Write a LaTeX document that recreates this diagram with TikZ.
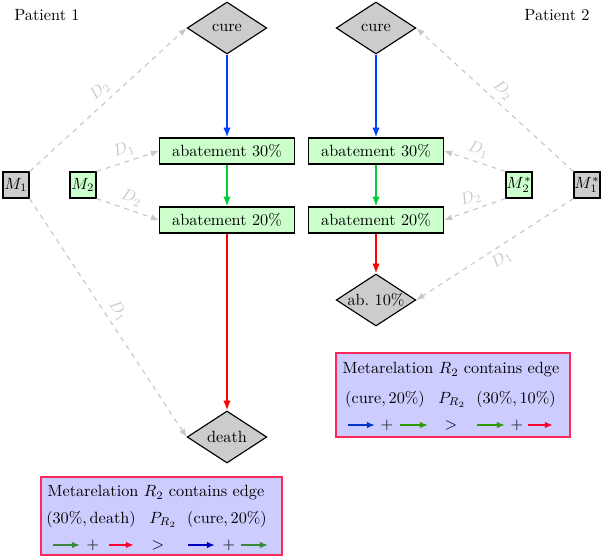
\documentclass[tikz,border=0pt]{standalone}
\usetikzlibrary{shapes.geometric,arrows.meta}

\definecolor{boxgreen}{RGB}{204,255,204}
\definecolor{diamgray}{RGB}{204,204,204}
\definecolor{dashgray}{RGB}{200,200,200}
\definecolor{flowblue}{RGB}{0,64,255}
\definecolor{flowgreen}{RGB}{0,204,51}
\definecolor{flowred}{RGB}{255,0,0}
\definecolor{legfill}{RGB}{204,204,255}
\definecolor{legborder}{RGB}{255,40,90}
\definecolor{legblue}{RGB}{0,51,204}
\definecolor{legdkblue}{RGB}{0,0,190}
\definecolor{leggreen}{RGB}{51,153,0}
\definecolor{legdkgreen}{RGB}{56,136,56}
\definecolor{legred}{RGB}{255,0,51}

\tikzset{
  statebox/.style={draw, line width=0.7pt, fill=boxgreen, minimum width=83pt,
    minimum height=16pt, inner sep=0pt},
  outcome/.style={diamond, draw, line width=0.7pt, fill=diamgray,
    minimum width=49pt, minimum height=32pt, inner sep=0pt},
  medbox/.style={draw, line width=0.7pt, minimum size=16pt, inner sep=0pt},
  link/.style={draw=dashgray, dashed, line width=0.7pt,
    -{Latex[length=5pt,width=4pt]}},
  dlabel/.style={sloped, text=dashgray, inner sep=3pt},
  flow/.style={line width=0.9pt, -{Latex[length=6pt,width=4.5pt]}},
  legbox/.style={draw=legborder, line width=0.7pt, fill=legfill},
  legtext/.style={inner sep=0pt},
  legarrow/.style={line width=1.5pt, -{Latex[length=5pt,width=4pt]}}
}

\begin{document}
\begin{tikzpicture}[x=0.615pt, y=-0.615pt]
\useasboundingbox (0,0) rectangle (601,557);

% patient headers
\node (p1) at (47,15) {Patient 1};
\node (p2) at (557,15) {Patient 2};

% patient 1 chain
\node[outcome] (cureA) at (227,28) {cure};
\node[statebox] (abthA) at (227,151) {abatement 30\%};
\node[statebox] (abtwA) at (227,220) {abatement 20\%};
\node[outcome] (deathA) at (227,437) {death};
\node[medbox, fill=diamgray] (mOneA) at (16,185) {$M_1$};
\node[medbox, fill=boxgreen] (mTwoA) at (83,185) {$M_2$};

\draw[flow, flowblue] (cureA.south) -- (abthA.north);
\draw[flow, flowgreen] (abthA.south) -- (abtwA.north);
\draw[flow, flowred] (abtwA.south) -- (deathA.north);

\draw[link] (mOneA.north east) -- node[dlabel, above] {$D_2$} (cureA.west);
\draw[link] (mOneA.south east) -- node[dlabel, above] {$D_1$} (deathA.west);
\draw[link] (mTwoA.north east) -- node[dlabel, above] {$D_1$} (abthA.west);
\draw[link] (mTwoA.south east) -- node[dlabel, above] {$D_2$} (abtwA.west);

% patient 2 chain
\node[outcome] (cureB) at (376,28) {cure};
\node[statebox] (abthB) at (376,151) {abatement 30\%};
\node[statebox] (abtwB) at (376,220) {abatement 20\%};
\node[outcome] (abtenB) at (376,300) {\makebox[0pt]{ab.\ 10\%}};
\node[medbox, fill=boxgreen] (mTwoB) at (519,185) {$M_2^*$};
\node[medbox, fill=diamgray] (mOneB) at (587,185) {$M_1^*$};

\draw[flow, flowblue] (cureB.south) -- (abthB.north);
\draw[flow, flowgreen] (abthB.south) -- (abtwB.north);
\draw[flow, flowred] (abtwB.south) -- (abtenB.north);

\draw[link] (mOneB.north west) -- node[dlabel, above] {$D_2$} (cureB.east);
\draw[link] (mOneB.south west) -- node[dlabel, below] {$D_1$} (abtenB.east);
\draw[link] (mTwoB.north west) -- node[dlabel, above] {$D_1$} (abthB.east);
\draw[link] (mTwoB.south west) -- node[dlabel, above] {$D_2$} (abtwB.east);

% metarelation panel for patient 2
\node[legbox, minimum width=234*0.615pt, minimum height=84*0.615pt, inner sep=0pt]
  (legB) at (453,395) {};
\node[legtext] (legBtitle) at (451,370) {Metarelation $R_2$ contains edge};
\node[legtext] (legBa) at (385,399) {$(\mathrm{cure},20\%)$};
\node[legtext] (legBp) at (452,400) {$P_{R_2}$};
\node[legtext] (legBb) at (516,399) {$(30\%,10\%)$};
\draw[legarrow, legblue] (348,425) -- (375,425);
\node[legtext] (legBplusA) at (387,425) {$+$};
\draw[legarrow, leggreen] (400,425) -- (428,425);
\node[legtext] (legBgt) at (451,425) {$>$};
\draw[legarrow, leggreen] (477,425) -- (505,425);
\node[legtext] (legBplusB) at (517,425) {$+$};
\draw[legarrow, legred] (528,425) -- (553,425);

% metarelation panel for patient 1
\node[legbox, minimum width=241*0.615pt, minimum height=78*0.615pt, inner sep=0pt]
  (legA) at (161.5,516) {};
\node[legtext] (legAtitle) at (156,493) {Metarelation $R_2$ contains edge};
\node[legtext] (legAa) at (91,519) {$(30\%,\mathrm{death})$};
\node[legtext] (legAp) at (163,520) {$P_{R_2}$};
\node[legtext] (legAb) at (227,519) {$(\mathrm{cure},20\%)$};
\draw[legarrow, legdkgreen] (53,545) -- (80,545);
\node[legtext] (legAplusA) at (93,545) {$+$};
\draw[legarrow, legred] (109,545) -- (134,545);
\node[legtext] (legAgt) at (158,545) {$>$};
\draw[legarrow, legdkblue] (188,545) -- (215,545);
\node[legtext] (legAplusB) at (229,545) {$+$};
\draw[legarrow, legdkgreen] (241,545) -- (268,545);
\end{tikzpicture}
\end{document}
